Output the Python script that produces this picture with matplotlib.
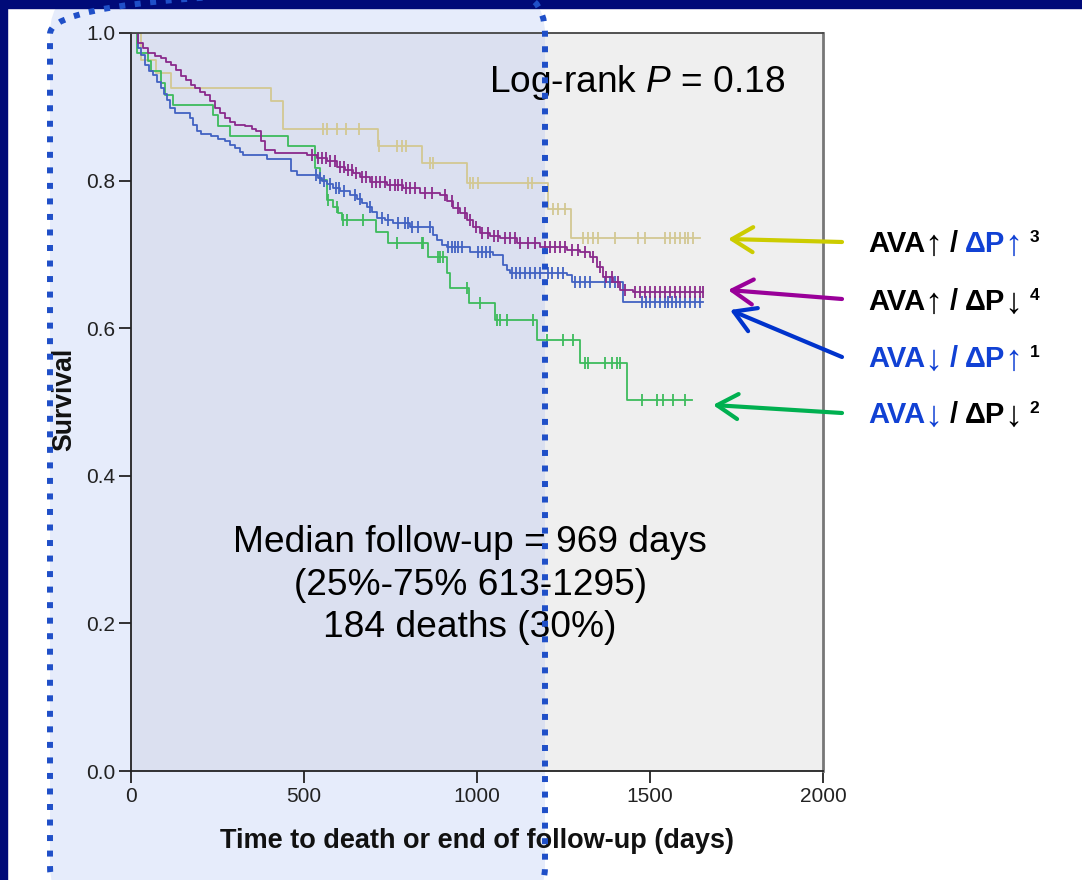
import numpy as np
import matplotlib
matplotlib.use("Agg")
import matplotlib.pyplot as plt
from matplotlib.patches import FancyBboxPatch, Rectangle

plt.rcParams['font.family'] = ['Liberation Sans', 'DejaVu Sans']
plt.rcParams['mathtext.fontset'] = 'custom'
plt.rcParams['mathtext.rm'] = 'Liberation Sans'
plt.rcParams['mathtext.it'] = 'Liberation Sans:italic'
plt.rcParams['mathtext.bf'] = 'Liberation Sans:bold'

# ---------------- data ----------------
# AVA up / dP up (3) - tan
tan_t = [0, 29, 72, 116, 405, 439, 714, 841, 971, 1205, 1272]
tan_s = [1.0, 0.963, 0.946, 0.925, 0.908, 0.870, 0.847, 0.824, 0.797, 0.762, 0.722]
tan_cens = [555, 566, 595, 621, 659, 716, 769, 783, 795, 864, 873, 980, 988, 1003,
            1147, 1159, 1220, 1234, 1254, 1306, 1321, 1335, 1350, 1399, 1465, 1486,
            1543, 1558, 1572, 1587, 1601, 1610, 1624]
tan_end = 1645

# AVA up / dP down (4) - purple
pur_t = [0, 20, 35, 49, 69, 87, 101, 116, 130, 145, 159, 173, 185, 199, 214, 228, 243,
         257, 272, 286, 301, 329, 350, 361, 376, 387, 416, 509, 538, 566, 595, 618, 642,
         662, 691, 740, 786, 835, 893, 913, 931, 951, 971, 988, 1009, 1038, 1066, 1116,
         1182, 1260, 1298, 1327, 1347, 1364, 1393, 1413, 1451]
pur_s = [1.0, 0.986, 0.980, 0.973, 0.969, 0.966, 0.961, 0.957, 0.950, 0.942, 0.936,
         0.930, 0.925, 0.920, 0.916, 0.908, 0.898, 0.892, 0.885, 0.879, 0.875, 0.874,
         0.870, 0.867, 0.854, 0.842, 0.837, 0.835, 0.831, 0.827, 0.818, 0.814, 0.810,
         0.805, 0.798, 0.794, 0.790, 0.783, 0.780, 0.772, 0.763, 0.756, 0.747, 0.737,
         0.729, 0.725, 0.722, 0.715, 0.710, 0.706, 0.703, 0.696, 0.683, 0.669, 0.663,
         0.652, 0.649]
pur_cens = [523, 540, 552, 564, 575, 590, 604, 616, 627, 639, 650, 668, 679, 697, 708,
            720, 734, 749, 763, 772, 783, 795, 806, 821, 850, 870, 908, 928, 945, 965,
            980, 997, 1014, 1032, 1049, 1061, 1081, 1095, 1110, 1124, 1147, 1168, 1197,
            1211, 1225, 1240, 1254, 1275, 1292, 1312, 1335, 1355, 1373, 1390, 1408, 1428,
            1457, 1471, 1486, 1500, 1514, 1529, 1543, 1558, 1572, 1587, 1601, 1616, 1630,
            1645, 1653]
pur_end = 1653

# AVA down / dP up (1) - blue
blu_t = [0, 20, 29, 40, 52, 64, 75, 87, 95, 104, 113, 127, 171, 179, 191, 202, 231, 251,
         272, 286, 301, 315, 324, 393, 462, 480, 540, 552, 566, 584, 604, 633, 653, 668,
         682, 697, 711, 734, 757, 806, 873, 884, 899, 913, 980, 1046, 1075, 1087, 1095,
         1260, 1275, 1422]
blu_s = [1.0, 0.980, 0.970, 0.957, 0.949, 0.943, 0.934, 0.925, 0.917, 0.909, 0.898,
         0.892, 0.885, 0.875, 0.867, 0.863, 0.860, 0.856, 0.854, 0.848, 0.844, 0.839,
         0.835, 0.829, 0.813, 0.808, 0.804, 0.799, 0.795, 0.790, 0.786, 0.780, 0.775,
         0.770, 0.764, 0.757, 0.749, 0.747, 0.743, 0.737, 0.726, 0.720, 0.713, 0.710,
         0.703, 0.699, 0.686, 0.679, 0.675, 0.672, 0.663, 0.636]
blu_cens = [535, 546, 558, 575, 592, 601, 616, 647, 662, 691, 725, 743, 772, 792, 801,
            812, 829, 864, 916, 928, 936, 945, 957, 1003, 1014, 1026, 1038, 1101, 1113,
            1124, 1139, 1153, 1168, 1182, 1205, 1217, 1234, 1249, 1283, 1298, 1312, 1327,
            1370, 1384, 1399, 1477, 1488, 1500, 1514, 1529, 1543, 1552, 1564, 1575, 1587,
            1601, 1616, 1630, 1645]
blu_end = 1653

# AVA down / dP down (2) - green
grn_t = [0, 17, 49, 58, 87, 98, 121, 237, 251, 286, 454, 532, 546, 566, 584, 598, 610,
         708, 743, 858, 913, 922, 977, 1052, 1173, 1298, 1434]
grn_s = [1.0, 0.973, 0.962, 0.949, 0.932, 0.916, 0.902, 0.889, 0.874, 0.860, 0.847,
         0.817, 0.801, 0.774, 0.764, 0.756, 0.747, 0.730, 0.715, 0.696, 0.675, 0.654,
         0.634, 0.611, 0.584, 0.553, 0.503]
grn_cens = [570, 595, 613, 624, 671, 769, 841, 844, 887, 893, 902, 970, 1009, 1058, 1066,
            1087, 1162, 1202, 1249, 1277, 1312, 1321, 1370, 1390, 1405, 1413, 1477, 1520,
            1538, 1566, 1601]
grn_end = 1621

x_ticks = [0, 500, 1000, 1500, 2000]
y_ticks = [0.0, 0.2, 0.4, 0.6, 0.8, 1.0]

groups = [
    (tan_t, tan_s, tan_cens, tan_end, '#d3c892'),
    (grn_t, grn_s, grn_cens, grn_end, '#3dbb5c'),
    (blu_t, blu_s, blu_cens, blu_end, '#4262c2'),
    (pur_t, pur_s, pur_cens, pur_end, '#8a2a8c'),
]

# ---------------- figure ----------------
W, H = 1082, 880
fig = plt.figure(figsize=(W / 100, H / 100), dpi=100)
fig.patch.set_facecolor('white')


def rounded(**kw):
    return FancyBboxPatch((0.50, -0.30), 4.95, 9.20,
                          boxstyle='round,pad=0,rounding_size=0.44',
                          transform=fig.dpi_scale_trans, **kw)


fig.add_artist(rounded(facecolor='#e6ecfb', edgecolor='none', zorder=-5))
fig.add_artist(Rectangle((0, 1 - 8 / H), 1, 8 / H, transform=fig.transFigure,
                         color='#000a78', zorder=-4))
fig.add_artist(Rectangle((0, 0), 7 / W, 1, transform=fig.transFigure,
                         color='#000a78', zorder=-4))

ax = fig.add_axes([131 / W, 1 - 771 / H, 692 / W, 738 / H])
ax.set_facecolor('#efefef')
ax.add_patch(rounded(facecolor='#dbe0f0', edgecolor='none', zorder=0.5))

for t, s, cens, end, col in groups:
    t = np.asarray(t, float)
    s = np.asarray(s, float)
    ax.step(np.r_[t, end], np.r_[s, s[-1]], where='post', color=col, lw=1.3, zorder=2)
    c = np.asarray(cens, float)
    sc = s[np.searchsorted(t, c, side='right') - 1]
    ax.plot(c, sc, ls='none', marker='|', ms=9, mew=1.3, color=col, zorder=2)

ax.set_xlim(0, 2000)
ax.set_ylim(0, 1.0)
ax.set_xticks(x_ticks)
ax.set_yticks(y_ticks)
ax.set_yticklabels([f'{v:.1f}' for v in y_ticks])
ax.tick_params(length=8.5, width=1.3, color='#222222', labelsize=15,
               labelcolor='#222222', pad=3)
for side in ('left', 'bottom'):
    ax.spines[side].set_color('#222222')
    ax.spines[side].set_linewidth(1.3)
ax.spines['top'].set_color('#444444')
ax.spines['top'].set_linewidth(1.3)
ax.spines['right'].set_color('#777777')
ax.spines['right'].set_linewidth(2.0)

ax.set_xlabel('Time to death or end of follow-up (days)', fontsize=19.5,
              fontweight='bold', color='#111111')
ax.xaxis.set_label_coords(0.5, -0.077)
ax.set_ylabel('Survival', fontsize=19.2, fontweight='bold', color='#111111')
ax.yaxis.set_label_coords(-0.078, 0.503)

fig.text(637 / W, 1 - 82 / H, 'Log-rank $P$ = 0.18', ha='center', va='center',
         fontsize=26.7, color='black')
fig.text(470 / W, 1 - 585 / H,
         'Median follow-up = 969 days\n(25%-75% 613-1295)\n184 deaths (30%)',
         ha='center', va='center', fontsize=26.7, linespacing=1.28,
         multialignment='center', color='black')

# ---------------- right-hand labels ----------------
K = 'black'
B = '#1141d4'
# (text, colour, is_arrow_glyph, gap after in px)
labels = [
    (252, [('AVA', K, False, -1), ('↑', K, True, 7), ('/', K, False, 8),
           ('ΔP', B, False, -1), ('↑', B, True, 7)], '3'),
    (310, [('AVA', K, False, -1), ('↑', K, True, 7), ('/', K, False, 8),
           ('ΔP', K, False, -1), ('↓', K, True, 7)], '4'),
    (367, [('AVA', B, False, -1), ('↓', B, True, 7), ('/', B, False, 8),
           ('ΔP', B, False, -1), ('↑', B, True, 7)], '1'),
    (423, [('AVA', B, False, -1), ('↓', B, True, 7), ('/', K, False, 8),
           ('ΔP', K, False, -1), ('↓', K, True, 7)], '2'),
]
renderer = fig.canvas.get_renderer()
for base, pieces, sup in labels:
    x = 868
    for txt, col, is_arrow, g in pieces:
        if is_arrow:
            tt = fig.text(x / W, 1 - (base + 3) / H, txt, ha='left', va='baseline',
                          fontsize=26, fontweight='normal', color=col)
        else:
            tt = fig.text(x / W, 1 - base / H, txt, ha='left', va='baseline',
                          fontsize=21, fontweight='bold', color=col)
        bb = tt.get_window_extent(renderer)
        x = bb.x1 + g
    fig.text(x / W, 1 - (base - 10) / H, sup, ha='left', va='baseline',
             fontsize=12.5, fontweight='bold', color=K)

arrows = [
    ((842, 242), (728, 239), '#cccc00'),
    ((842, 299), (728, 290), '#990099'),
    ((842, 357), (730, 310), '#0033cc'),
    ((842, 413), (713, 405), '#00b050'),
]
for (x0, y0), (x1, y1), col in arrows:
    ax.annotate('', xy=(x1, H - y1), xycoords='figure pixels',
                xytext=(x0, H - y0), textcoords='figure pixels',
                arrowprops=dict(arrowstyle='->,head_length=1.0,head_width=0.6',
                                color=col, lw=3, mutation_scale=15,
                                shrinkA=0, shrinkB=0),
                annotation_clip=False)

fig.add_artist(rounded(facecolor='none', edgecolor='#1f4fc8', lw=4.3,
                       linestyle=(0, (1, 1.6)), zorder=10))

fig.savefig('out.png', dpi=100, facecolor='white')
